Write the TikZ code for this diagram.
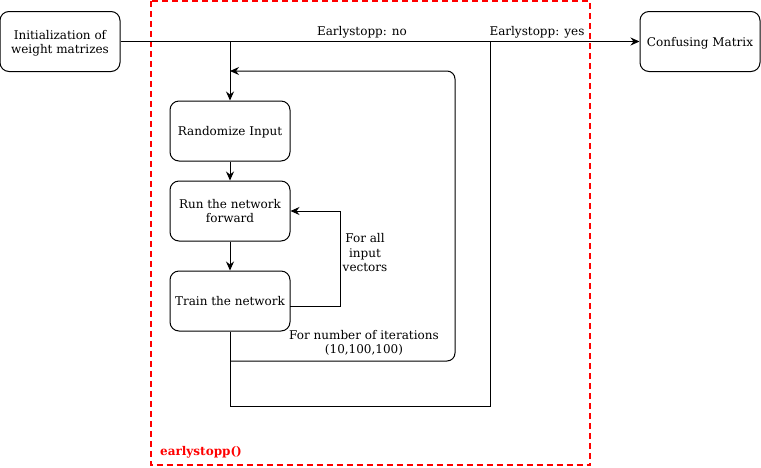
\documentclass[tikz,border=0pt]{standalone}
\usepackage{fontspec}
\setmainfont{DejaVu Serif}
\usetikzlibrary{arrows.meta}
\begin{document}
\begin{tikzpicture}[x=1pt,y=-1pt,
  box/.style={draw, line width=1pt, rounded corners=9pt, minimum width=120pt, minimum height=60pt, align=center, font=\fontsize{12}{14}\selectfont, inner sep=1pt, text depth=0pt},
  lbl/.style={font=\fontsize{12}{14.5}\selectfont, align=center, inner sep=0pt},
  conn/.style={line width=1pt},
  arr/.style={conn, -{Stealth[length=9pt,width=8pt,inset=3pt]}},
]
\useasboundingbox (0,0) rectangle (761,467);
% red dashed frame
\draw[red, line width=2pt, dash pattern=on 6pt off 4pt] (150.5,1) rectangle (590,465);
\node[anchor=west, text=red, font=\fontsize{12}{14}\selectfont\bfseries, inner sep=0pt] (fn) at (160,452) {earlystopp()};

\node[box] (init) at (60,41.5) {Initialization of\\weight matrizes};
\node[box] (conf) at (700,41.5) {Confusing Matrix};
\node[box] (rand) at (230,131) {Randomize Input};
\node[box] (run) at (230,211) {Run the network\\forward};
\node[box] (train) at (230,301) {Train the network};

\coordinate (j1) at (230,41.5);
\coordinate (j2) at (230,361);
\coordinate (tr) at (290,306);

% main line
\draw[arr] (init.east) -- (conf.west);
\draw[arr] (j1) -- (rand.north);
\draw[arr] (rand.south) -- (run.north);
\draw[arr] (run.south) -- (train.north);

% inner loop
\draw[arr] (tr) -- (340,306) -- (340,211) -- (run.east);

% earlystopp yes path
\draw[conn] (train.south) -- (230,406) -- (490,406) -- (490,41.5);

% outer loop
\draw[arr, rounded corners=8pt] (j2) -- (455,361) -- (455,71) -- (230,71);

% labels
\node[lbl] (l1) at (362,32) {Earlystopp: no};
\node[lbl] (l2) at (537,32) {Earlystopp: yes};
\node[lbl] (l3) at (365,253) {For all\\input\\vectors};
\node[lbl] (l4) at (364,343) {For number of iterations\\(10,100,100)};
\end{tikzpicture}
\end{document}
